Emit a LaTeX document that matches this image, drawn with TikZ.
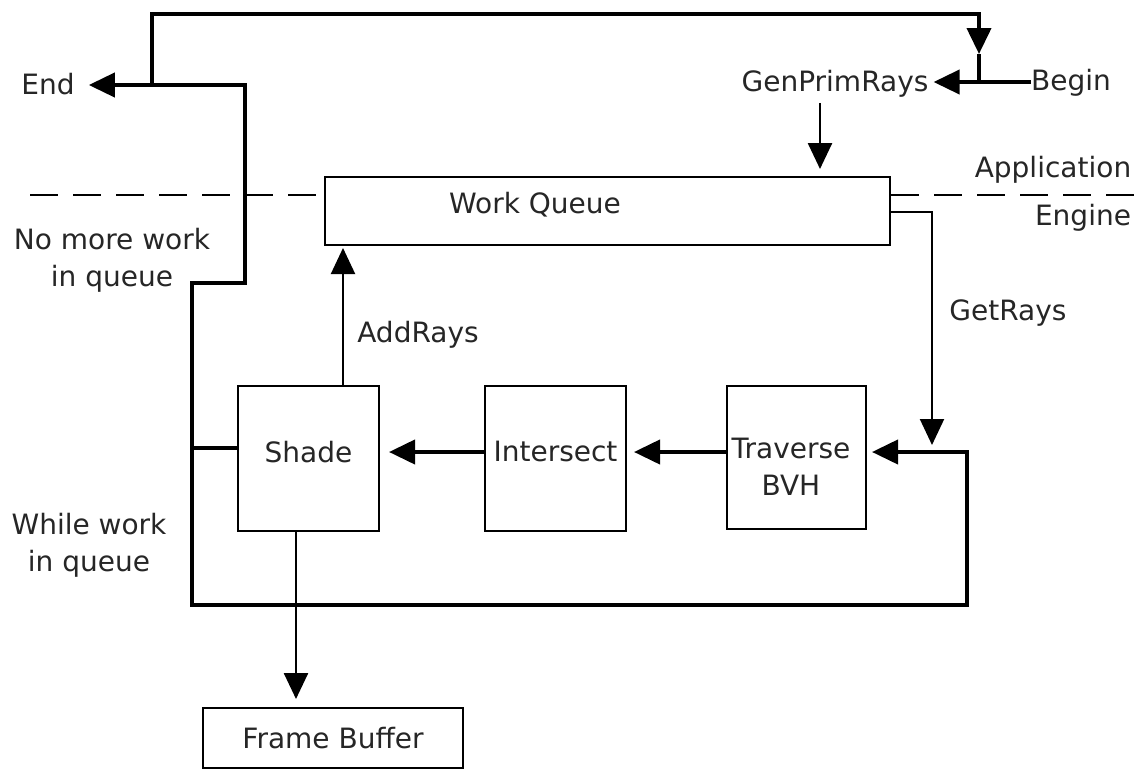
\documentclass[tikz,border=0pt]{standalone}
\usepackage{fontspec}
\setmainfont{DejaVu Sans}
\usetikzlibrary{arrows.meta}
\begin{document}
\begin{tikzpicture}[x=1pt,y=-1pt,
  every node/.style={text=black!85,font=\fontsize{28}{37}\selectfont},
  txt/.style={inner sep=0pt,align=center},
  box/.style={draw=black,line width=2pt,inner sep=0pt},
  thickln/.style={line width=4pt,draw=black},
  thinln/.style={line width=2pt,draw=black},
  midln/.style={line width=2.6pt,draw=black},
  tri/.style={-{Triangle[length=26pt,width=24pt]}},
  sep/.style={line width=1.6pt,dash pattern=on 28pt off 15pt}]
\useasboundingbox (0,0) rectangle (1144,772);
\fill[white] (0,0) rectangle (1144,772);

% boxes
\node[box,minimum width=565pt,minimum height=68pt] (wq) at (607.5,211) {};
\node[txt] (wqlabel) at (535,205) {Work Queue};
\node[box,minimum width=141pt,minimum height=145pt,text depth=14pt] (shade) at (308.5,458.5) {Shade};
\node[box,minimum width=141pt,minimum height=145pt,text depth=14pt] (inter) at (555.5,458.5) {Intersect};
\node[box,minimum width=139pt,minimum height=143pt] (trav) at (796.5,457.5) {};
\node[txt] (travlabel) at (791,467) {Traverse\\BVH};
\node[box,minimum width=260pt,minimum height=60pt] (fb) at (333,738) {Frame Buffer};

% labels
\node[txt] (endn) at (48,84) {End};
\node[txt] (begin) at (1071,83) {Begin};
\node[inner sep=5pt] (gen) at (835,84) {GenPrimRays};
\node[txt] (app) at (1053,170) {Application};
\node[txt] (eng) at (1083,218) {Engine};
\node[txt] (nomore) at (112,260) {No more work\\in queue};
\node[txt] (addrays) at (418,335) {AddRays};
\node[txt] (getrays) at (1008,313) {GetRays};
\node[txt] (while) at (89,545) {While work\\in queue};

% separator
\coordinate (sepL) at (30,195);
\coordinate (sepR) at (1144,195);
\draw[sep] (sepL) -- (wq.west |- sepL);
\draw[sep] (wq.east |- sepR) -- (sepR);

% begin -> GenPrimRays and top loop
\coordinate (jb) at (979,82);
\coordinate (je) at (152,85);
\coordinate (tl) at (152,14);
\coordinate (tr) at (979,14);
\coordinate (tm) at (979,54);
\draw[thickln,tri] (begin.west |- jb) -- (gen.east |- jb);
\draw[thickln,tri] (je) -- (tl) -- (tr) -- (tm);
\draw[thickln] (tm) -- (jb);

% GenPrimRays -> Work Queue
\coordinate (gx) at (820,0);
\draw[midln,tri,shorten >=7pt] (gen.south -| gx) -- (wq.north -| gx);

% GetRays
\coordinate (g0) at (890,212);
\coordinate (g1) at (932,212);
\coordinate (g2) at (932,445);
\draw[thinln,tri] (g0) -- (g1) -- (g2);

% pipeline arrows
\coordinate (py) at (0,452);
\draw[thickln,tri,shorten >=7pt] (trav.west |- py) -- (inter.east |- py);
\draw[thickln,tri,shorten >=9pt] (inter.west |- py) -- (shade.east |- py);

% AddRays
\coordinate (ax) at (343,0);
\draw[thinln,tri,shorten >=2pt] (shade.north -| ax) -- (wq.south -| ax);

% Frame buffer
\coordinate (fx) at (296,0);
\draw[midln,tri,shorten >=8pt] (shade.south -| fx) -- (fb.north -| fx);

% loops
\coordinate (la) at (192,448);
\coordinate (lb) at (192,605);
\coordinate (lc) at (967,605);
\coordinate (ld) at (967,452);
\coordinate (ltr) at (866,452);
\coordinate (le) at (192,283);
\coordinate (lf) at (245,283);
\coordinate (lg) at (245,85);
\draw[thickln,tri,shorten >=6pt] (shade.west |- la) -- (la) -- (lb) -- (lc) -- (ld) -- (ltr);
\draw[thickln,tri] (la) -- (le) -- (lf) -- (lg) -- ([xshift=14pt]endn.east |- lg);
\end{tikzpicture}
\end{document}
